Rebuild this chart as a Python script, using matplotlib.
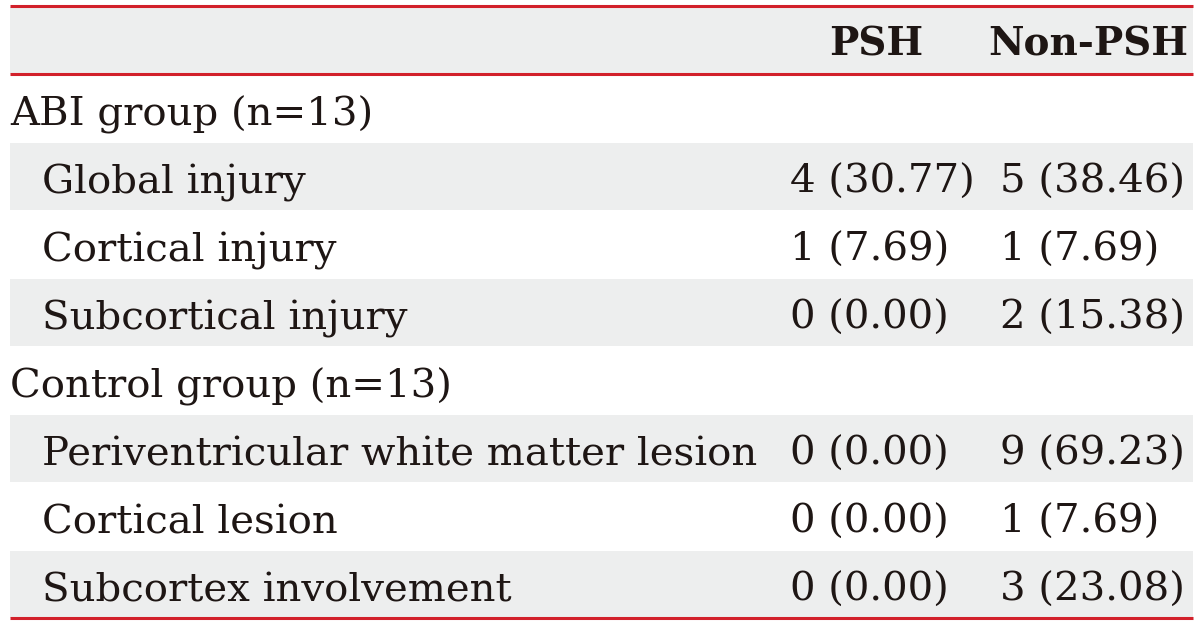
import matplotlib
matplotlib.use('Agg')
import matplotlib.pyplot as plt
from matplotlib.patches import Rectangle

# ---- table contents ----
col_headers = ['PSH', 'Non-PSH']
row_labels = ['ABI group (n=13)', 'Global injury', 'Cortical injury', 'Subcortical injury',
              'Control group (n=13)', 'Periventricular white matter lesion', 'Cortical lesion',
              'Subcortex involvement']
row_level = [0, 1, 1, 1, 0, 1, 1, 1]   # 0: group heading, 1: indented item
psh = ['', '4 (30.77)', '1 (7.69)', '0 (0.00)', '', '0 (0.00)', '0 (0.00)', '0 (0.00)']
non_psh = ['', '5 (38.46)', '1 (7.69)', '2 (15.38)', '', '9 (69.23)', '1 (7.69)', '3 (23.08)']

# ---- style ----
red = '#d2202a'
band = '#edeeee'
ink = '#1e1614'
font = 'DejaVu Serif'
fs = 29

W, H = 1200, 626
left, right = 10, 1193
head_top, head_bot = 7, 74
row_top, row_h = 75, 68
col_x = [790, 1000]       # left edge of value text
col_c = [876, 1088]       # header centers

fig = plt.figure(figsize=(W / 100, H / 100), dpi=100)
ax = fig.add_axes([0, 0, 1, 1])
ax.set_xlim(0, W)
ax.set_ylim(H, 0)
ax.axis('off')

# header
ax.add_patch(Rectangle((left, head_top), right - left, head_bot - head_top, color=band, lw=0))
for c, name in zip(col_c, col_headers):
    ax.text(c, head_top + 48, name, ha='center', va='baseline', fontsize=fs - 1,
            fontweight='bold', family=font, color=ink)

# body
for i, lab in enumerate(row_labels):
    top = row_top + i * row_h
    if i % 2 == 1:
        ax.add_patch(Rectangle((left, top), right - left, row_h - 1, color=band, lw=0))
    base = top + 50
    ax.text(left + (32 if row_level[i] else 0), base, lab, ha='left', va='baseline',
            fontsize=fs, family=font, color=ink)
    ax.text(col_x[0], base, psh[i], ha='left', va='baseline', fontsize=fs, family=font, color=ink)
    ax.text(col_x[1], base, non_psh[i], ha='left', va='baseline', fontsize=fs, family=font, color=ink)

bottom = row_top + len(row_labels) * row_h - 1
for y in [head_top - 1, head_bot, bottom]:
    ax.plot([left, right], [y, y], color=red, lw=2.2, solid_capstyle='butt')

fig.savefig('out.png', dpi=100)
